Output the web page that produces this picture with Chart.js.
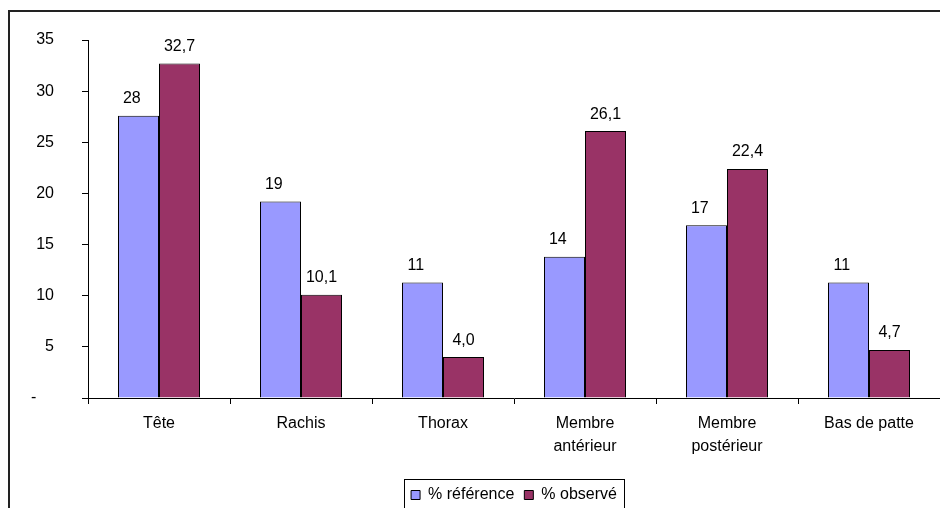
<!DOCTYPE html>
<html>
<head>
<meta charset="utf-8">
<script src="https://cdn.jsdelivr.net/npm/chart.js@4/dist/chart.umd.min.js"></script>
<style>
  html, body { margin: 0; padding: 0; background: #fff; overflow: hidden; width: 940px; height: 508px; }
  #wrap { position: absolute; left: 0; top: 0; width: 950px; height: 520px; }
</style>
</head>
<body>
<div id="wrap"><canvas id="c" width="950" height="520"></canvas></div>
<script>
const categories = ['Tête', 'Rachis', 'Thorax', ['Membre', 'antérieur'], ['Membre', 'postérieur'], 'Bas de patte'];
const seriesNames = ['% référence', '% observé'];
const referenceValues = [27.6, 19.2, 11.3, 13.8, 16.9, 11.3];
const observedValues = [32.7, 10.1, 4.0, 26.1, 22.4, 4.7];
const yTicks = [0, 5, 10, 15, 20, 25, 30, 35];

const FONT = { family: '"Liberation Sans", Arial, sans-serif', size: 16 };

const frReference = v => Math.round(v).toString() + '\u2007 ';
const frObserved = v => v.toFixed(1).replace('.', ',');
const formatters = [frReference, frObserved];

const outerFrame = {
  id: 'outerFrame',
  beforeDraw(chart) {
    const ctx = chart.ctx;
    ctx.save();
    ctx.fillStyle = '#fff';
    ctx.fillRect(0, 0, chart.width, chart.height);
    ctx.strokeStyle = '#222';
    ctx.lineWidth = 2;
    ctx.strokeRect(9, 11, chart.width + 40, chart.height + 40);
    ctx.restore();
  }
};

const barLabels = {
  id: 'barLabels',
  afterDatasetsDraw(chart) {
    const ctx = chart.ctx;
    ctx.save();
    ctx.font = FONT.size + 'px ' + FONT.family;
    ctx.fillStyle = '#000';
    ctx.textAlign = 'center';
    ctx.textBaseline = 'alphabetic';
    chart.data.datasets.forEach((ds, di) => {
      const meta = chart.getDatasetMeta(di);
      meta.data.forEach((bar, i) => {
        ctx.fillText(formatters[di](ds.data[i]), bar.x, bar.y - 12.5);
      });
    });
    ctx.restore();
  }
};

const legendFrame = {
  id: 'legendFrame',
  afterDraw(chart) {
    const lg = chart.legend;
    if (!lg || !lg.legendHitBoxes || !lg.legendHitBoxes.length) return;
    const hb = lg.legendHitBoxes;
    const first = hb[0], last = hb[hb.length - 1];
    const left = Math.round(first.left - 7) + 0.5;
    const right = Math.round(last.left + last.width + 7) + 0.5;
    const top = Math.round(lg.top + 2) + 0.5;
    const bottom = Math.round(lg.bottom + 4) + 0.5;
    const ctx = chart.ctx;
    ctx.save();
    ctx.strokeStyle = '#000';
    ctx.lineWidth = 1;
    ctx.strokeRect(left, top, right - left, bottom - top);
    ctx.restore();
  }
};

new Chart(document.getElementById('c'), {
  type: 'bar',
  data: {
    labels: categories,
    datasets: [
      { label: seriesNames[0], data: referenceValues, backgroundColor: '#9999FF', borderColor: '#000', borderWidth: 1, borderSkipped: 'bottom' },
      { label: seriesNames[1], data: observedValues, backgroundColor: '#993366', borderColor: '#000', borderWidth: 1, borderSkipped: 'bottom' }
    ]
  },
  options: {
    responsive: false,
    animation: false,
    devicePixelRatio: 1,
    layout: { padding: { left: 8, right: 10, top: 40, bottom: 7 } },
    datasets: { bar: { categoryPercentage: 82 / 142, barPercentage: 1.0 } },
    plugins: {
      tooltip: { enabled: false },
      legend: {
        display: true,
        position: 'bottom',
        fullSize: false,
        labels: {
          boxWidth: 9,
          boxHeight: 9,
          padding: 10,
          color: '#000',
          font: FONT
        }
      }
    },
    scales: {
      x: {
        offset: true,
        grid: { display: true, offset: true, drawOnChartArea: false, drawTicks: true, tickLength: 6, color: '#000', lineWidth: 1 },
        border: { display: true, color: '#000', width: 1 },
        ticks: { color: '#000', font: { ...FONT, lineHeight: 1.44 }, padding: 8, maxRotation: 0, autoSkip: false },
        afterFit(scale) { scale.height = 79; }
      },
      y: {
        min: yTicks[0],
        max: yTicks[yTicks.length - 1],
        grid: { display: true, drawOnChartArea: false, drawTicks: true, tickLength: 6, color: '#000', lineWidth: 1 },
        border: { display: true, color: '#000', width: 1 },
        afterBuildTicks(scale) { scale.ticks = yTicks.map(v => ({ value: v })); },
        ticks: {
          color: '#000',
          font: FONT,
          padding: 28,
          callback: v => (v === 0 ? '-\u2007\u2007' : String(v))
        },
        afterFit(scale) { scale.width = 80; }
      }
    }
  },
  plugins: [outerFrame, barLabels, legendFrame]
});
</script>
</body>
</html>
